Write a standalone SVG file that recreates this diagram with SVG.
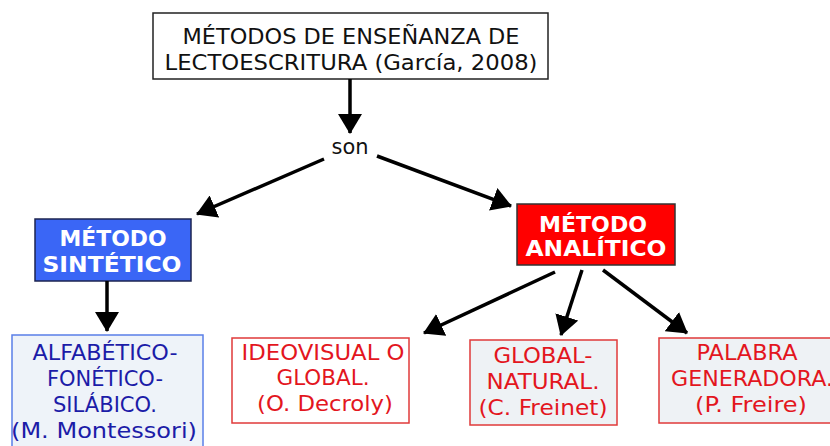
<svg xmlns="http://www.w3.org/2000/svg" width="830" height="446" viewBox="0 0 830 446">
<style>
text{font-family:"DejaVu Sans","Liberation Sans",sans-serif;font-size:21px;text-anchor:middle}
.t{font-size:22px;fill:#111}
.b{font-weight:bold;fill:#fff;font-size:21px}
.k{fill:#111}
.bl{fill:#1c1ca8}
.rd{fill:#e3161e}
.con line{stroke:#000;stroke-width:3.5;marker-end:url(#ah)}
</style>
<defs>
<marker id="ah" viewBox="0 0 20 24" refX="19" refY="12" markerWidth="20" markerHeight="24" markerUnits="userSpaceOnUse" orient="auto">
<path d="M0,0 L20,12 L0,24 z" fill="#000"/>
</marker>
</defs>
<rect width="830" height="446" fill="#fff"/>
<g id="title">
<rect x="153" y="13" width="395" height="66" fill="#fff" stroke="#222" stroke-width="1.5"/>
<text class="t" x="351" y="44" textLength="337" lengthAdjust="spacingAndGlyphs">MÉTODOS DE ENSEÑANZA DE</text>
<text class="t" x="351" y="70" textLength="373" lengthAdjust="spacingAndGlyphs">LECTOESCRITURA (García, 2008)</text>
</g>
<g id="son"><text class="t" x="350" y="154" textLength="37" lengthAdjust="spacingAndGlyphs">son</text></g>
<g id="sintetico">
<rect x="35" y="219" width="156" height="62" fill="#3a66f6" stroke="#1c2450" stroke-width="1.5"/>
<text class="b" x="113" y="246" textLength="107" lengthAdjust="spacingAndGlyphs">MÉTODO</text>
<text class="b" x="112" y="272" textLength="139" lengthAdjust="spacingAndGlyphs">SINTÉTICO</text>
</g>
<g id="analitico">
<rect x="517" y="204" width="158" height="61" fill="#ff0000" stroke="#333" stroke-width="1.5"/>
<text class="b" x="593" y="232" textLength="108" lengthAdjust="spacingAndGlyphs">MÉTODO</text>
<text class="b" x="596" y="256" textLength="141" lengthAdjust="spacingAndGlyphs">ANALÍTICO</text>
</g>
<g id="alfabetico">
<rect x="12" y="335" width="191" height="120" fill="#eef3f9" stroke="#5a7fe8" stroke-width="1.5"/>
<text class="bl" x="105" y="360" textLength="145" lengthAdjust="spacingAndGlyphs">ALFABÉTICO-</text>
<text class="bl" x="105" y="386" textLength="116" lengthAdjust="spacingAndGlyphs">FONÉTICO-</text>
<text class="bl" x="105" y="412" textLength="104" lengthAdjust="spacingAndGlyphs">SILÁBICO.</text>
<text class="bl" x="104" y="438" textLength="186" lengthAdjust="spacingAndGlyphs">(M. Montessori)</text>
</g>
<g id="ideovisual">
<rect x="232" y="338" width="177" height="85" fill="#fff" stroke="#e03a3a" stroke-width="1.5"/>
<text class="rd" x="323" y="360" textLength="163" lengthAdjust="spacingAndGlyphs">IDEOVISUAL O</text>
<text class="rd" x="323" y="385" textLength="93" lengthAdjust="spacingAndGlyphs">GLOBAL.</text>
<text class="rd" x="325" y="411" textLength="136" lengthAdjust="spacingAndGlyphs">(O. Decroly)</text>
</g>
<g id="global">
<rect x="470" y="340" width="147" height="85" fill="#eef2f5" stroke="#e03a3a" stroke-width="1.5"/>
<text class="rd" x="543" y="363" textLength="99" lengthAdjust="spacingAndGlyphs">GLOBAL-</text>
<text class="rd" x="543" y="389" textLength="113" lengthAdjust="spacingAndGlyphs">NATURAL.</text>
<text class="rd" x="543" y="415" textLength="129" lengthAdjust="spacingAndGlyphs">(C. Freinet)</text>
</g>
<g id="palabra">
<rect x="659" y="338" width="180" height="85" fill="#eef2f5" stroke="#e03a3a" stroke-width="1.5"/>
<text class="rd" x="747" y="360" textLength="101" lengthAdjust="spacingAndGlyphs">PALABRA</text>
<text class="rd" x="752" y="386" textLength="162" lengthAdjust="spacingAndGlyphs">GENERADORA.</text>
<text class="rd" x="751" y="412" textLength="112" lengthAdjust="spacingAndGlyphs">(P. Freire)</text>
</g>
<g id="connectors" class="con">
<line x1="350" y1="79" x2="350" y2="133"/>
<line x1="324" y1="159" x2="197" y2="214"/>
<line x1="377" y1="156" x2="511" y2="206"/>
<line x1="107" y1="281" x2="107" y2="331"/>
<line x1="555" y1="272" x2="424" y2="333"/>
<line x1="582" y1="270" x2="561" y2="335"/>
<line x1="603" y1="270" x2="687" y2="333"/>
</g>
</svg>
